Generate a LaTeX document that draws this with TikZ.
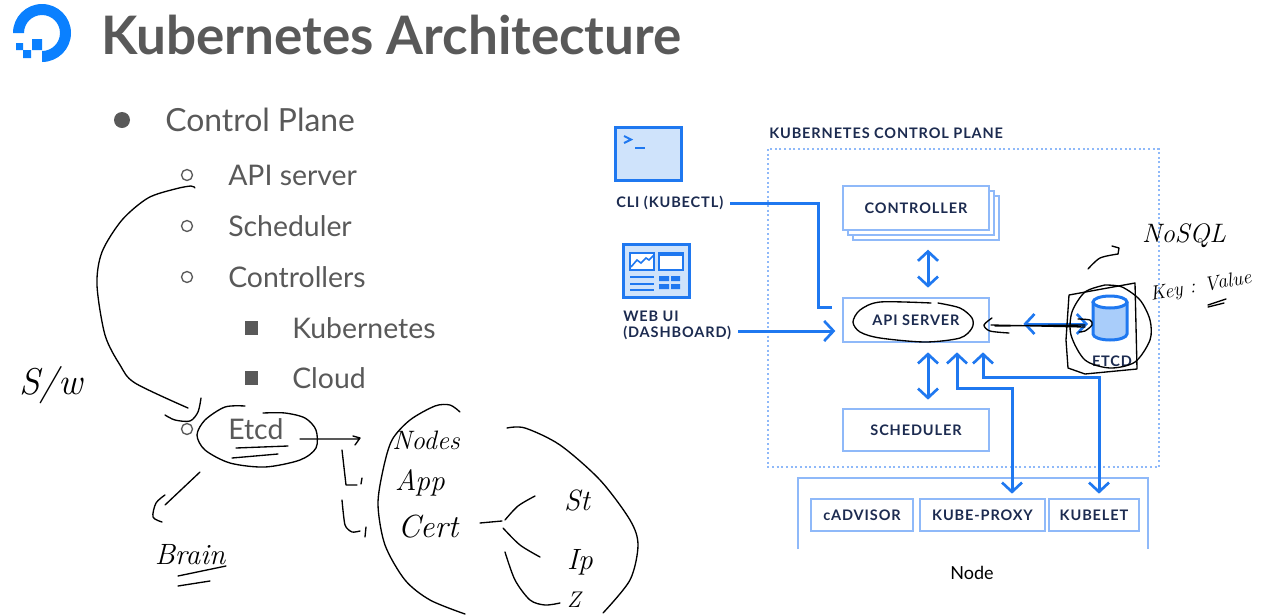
\documentclass[tikz,border=0pt]{standalone}
\usepackage{fontspec}
\setsansfont{Lato}
\newfontfamily\capsfont[LetterSpace=6]{Lato}
\usetikzlibrary{arrows.meta}
\definecolor{doblue}{HTML}{0A80FF}
\definecolor{flowblue}{HTML}{1F78F0}
\definecolor{paleblue}{HTML}{8FB9F9}
\definecolor{iconfill}{HTML}{CFE3FB}
\definecolor{cylfill}{HTML}{A9CDFA}
\definecolor{navy}{HTML}{1C2B50}
\definecolor{slidegrey}{HTML}{595959}
\tikzset{
  every node/.style={font=\sffamily,inner sep=0pt},
  itemtext/.style={anchor=west,text=slidegrey,font=\sffamily\fontsize{21.3}{24}\selectfont},
  capslabel/.style={text=navy,font=\capsfont\bfseries\fontsize{10.9}{12}\selectfont},
  boxnode/.style={draw=paleblue,line width=1.5pt,fill=white,capslabel,text height=7.6pt,text depth=0pt},
  flow/.style={draw=flowblue,line width=2.25pt,-{Straight Barb[length=7pt,width=15pt,line width=2pt]}},
  biflow/.style={draw=flowblue,line width=2.25pt,{Straight Barb[length=7pt,width=15pt,line width=2pt]}-{Straight Barb[length=7pt,width=15pt,line width=2pt]}},
  ink/.style={draw=black,line width=1pt,line cap=round,line join=round},
  inktext/.style={text=black,font=\rmfamily\itshape\fontsize{22}{24}\selectfont},
  circbullet/.style={draw=slidegrey,line width=1pt,fill=white},
}
\begin{document}
\begin{tikzpicture}[x=0.75pt,y=0.75pt,yscale=-1,xscale=1]
\useasboundingbox (0,0) rectangle (1261,615);

%Logo
\fill [doblue] (13,33) arc [start angle=180,end angle=450,radius=29] -- (42,51) arc [start angle=90,end angle=-180,radius=18] -- cycle;
\fill [doblue] (32,39) rectangle (42,50) (23,50) rectangle (31,58) (16,43) rectangle (23,50);

% Title
\draw (101,35) node (title) [anchor=west,text=slidegrey,font=\sffamily\bfseries\fontsize{39.8}{42}\selectfont] {Kubernetes Architecture};

% Left list
\fill [slidegrey] (122,120) circle [radius=8];
\draw (165,120) node (planeItem) [itemtext,font=\sffamily\fontsize{23.9}{26}\selectfont] {Control Plane};
\foreach \yy/\nm/\lbl in {175/apiItem/API server,226/schedItem/Scheduler,277/ctrlItem/Controllers,429/etcdItem/Etcd}{
  \draw [circbullet] (187,\yy) circle [radius=5.5];
  \draw (228,\yy) node (\nm) [itemtext] {\lbl};
}
\foreach \yy/\nm/\lbl in {328/kubeItem/Kubernetes,378/cloudItem/Cloud}{
  \fill [slidegrey] (245,\yy-7) rectangle (258,\yy+7);
  \draw (292,\yy) node (\nm) [itemtext] {\lbl};
}

%CLI icon
\draw [flowblue,fill=iconfill,line width=2.25pt] (615,127.5) rectangle (681,180);
\draw [flowblue,line width=1.5pt] (624,136) -- (631,139.5) -- (624,143);
\draw [flowblue,line width=1.5pt] (635,148) -- (645,148);
\draw (616,203) node (cliLabel) [capslabel,anchor=west] {CLI (KUBECTL)};

%Web UI icon
\draw [flowblue,fill=iconfill,line width=2.25pt] (623,244) rectangle (689,297);
\draw [flowblue,fill=white,line width=1.5pt] (630,252.5) rectangle (654,269.5);
\draw [flowblue,line width=1.2pt] (631,267) -- (637,260) -- (641,263) -- (646,258) -- (649,260) -- (654,255);
\draw [flowblue,fill=white,line width=1.5pt] (659,252.5) rectangle (683,269.5);
\draw [flowblue,line width=3pt] (659,254) -- (683,254);
\foreach \yy in {277,284,290}{
  \draw [flowblue,line width=1.5pt] (630,\yy) -- (654,\yy);
}
\fill [flowblue] (659,276) rectangle (669,281) (671,276) rectangle (680,281) (659,284) rectangle (669,289) (671,284) rectangle (680,289);
\draw (623,316) node (webLabel) [capslabel,anchor=west] {WEB UI};
\draw (623,333) node (dashLabel) [capslabel,anchor=west] {(DASHBOARD)};

%Control plane frame
\draw (769,133) node (planeLabel) [capslabel,anchor=west] {KUBERNETES CONTROL PLANE};
\draw [paleblue,line width=1.5pt,dotted] (768,149) rectangle (1159,467);

%Boxes
\draw [paleblue,fill=white,line width=1.5pt] (853,196) rectangle (999,240);
\draw [paleblue,fill=white,line width=1.5pt] (848,191) rectangle (994,235);
\draw (916,208) node (controller) [boxnode,minimum width=109.5pt,minimum height=33pt] {CONTROLLER};
\draw (916,320) node (api) [boxnode,minimum width=109.5pt,minimum height=33pt] {API SERVER};
\draw (916,430) node (scheduler) [boxnode,minimum width=109.5pt,minimum height=32pt] {SCHEDULER};
\draw (862,515) node (cadvisor) [boxnode,minimum width=76pt,minimum height=24.5pt] {cADVISOR};
\draw (982.5,515) node (proxy) [boxnode,minimum width=93.5pt,minimum height=24.5pt] {KUBE-PROXY};
\draw (1094,515) node (kubelet) [boxnode,minimum width=67.5pt,minimum height=24.5pt] {KUBELET};
\draw [paleblue,line width=1.5pt] (798,549) -- (798,478) -- (1148,478) -- (1148,549);
\draw (972,573) node (nodeLabel) [font=\sffamily\fontsize{13.5}{15}\selectfont] {Node};

%ETCD
\draw [flowblue,fill=cylfill,line width=2.25pt] (1093,302) -- (1093,334) arc [start angle=180,end angle=0,x radius=17,y radius=6] -- (1127,302);
\draw [flowblue,fill=white,line width=2.25pt] (1110,302) ellipse [x radius=17,y radius=6];
\draw (1112,361) node (etcdLabel) [capslabel] {ETCD};

%Connectors
\coordinate (cliBend) at (818,307);
\coordinate (cliEnd) at (832,307);
\draw [draw=flowblue,line width=2.25pt,shorten <=5pt] (cliLabel.east) -| (cliBend) -- (cliEnd);
\draw [flow,shorten <=5pt,shorten >=5pt] ([yshift=-1.5pt]dashLabel.east) -- ([yshift=-1.5pt]dashLabel.east -| api.west);
\draw [biflow,shorten <=14pt,shorten >=7pt] ([xshift=9pt]controller.south) -- ([xshift=9pt]api.north);
\draw [biflow,shorten <=7pt,shorten >=6pt] ([xshift=9pt]api.south) -- ([xshift=9pt]scheduler.north);
\coordinate (proxyBend) at (1012,388);
\draw [biflow,shorten <=7pt,shorten >=3pt] ([xshift=30.75pt]api.south) |- (proxyBend) -- (proxyBend |- proxy.north);
\coordinate (kubeletBend) at (1099,377);
\draw [biflow,shorten <=7pt,shorten >=3pt] ([xshift=50.25pt]api.south) |- (kubeletBend) -- (kubeletBend |- kubelet.north);
\coordinate (etcdPort) at (1088,324);
\draw [biflow,shorten <=25pt] ([yshift=3pt]api.east) -- (etcdPort);

%Ink over the slide
\draw [ink] plot [smooth] coordinates {(195,188) (191,186) (175,189) (148,198) (122,220) (102,252) (97,285) (105,335) (120,365) (135,383) (188,408)};
\draw [ink] plot [smooth] coordinates {(165,415) (175,420) (190,421) (198,412) (201,398)};
\draw [ink] plot [smooth] coordinates {(245,406) (225,407) (205,420) (197,435) (205,450) (230,463) (265,467) (300,460) (316,448) (316,430) (305,418) (285,413) (263,413)};
\draw [ink] (236,448) -- (288,446) (232,458) -- (278,454);
\draw [ink] (300,439) -- (358,439) (353,436) -- (360,438) -- (355,445);
\draw [ink] (200,472) -- (165,505);
\draw [ink] plot [smooth] coordinates {(165,495) (156,503) (153,517) (162,522)};
\draw (190,555) node (brainText) [inktext] {Brain};
\draw [ink] (178,576) -- (226,566) (178,586) -- (210,581);
\draw (51,385) node (swText) [inktext,font=\rmfamily\itshape\fontsize{28}{30}\selectfont] {S/w};
\draw [ink] (342,450) -- (346,485) -- (357,485) (362,478) -- (361,484);
\draw [ink] plot [tension=0.4,smooth] coordinates {(342,500) (345,525) (352,532) (360,531)};
\draw [ink] (366,527) -- (365,537);
\draw [ink] plot [smooth] coordinates {(460,412) (450,405) (435,406) (410,420) (392,440) (383,470) (378,505) (385,545) (405,580) (430,600) (465,614)};
\draw [ink] plot [smooth] coordinates {(507,428) (525,428) (560,445) (600,480) (630,520) (638,545) (630,580) (603,613)};
\draw (426,440) node (nodesText) [inktext,font=\rmfamily\itshape\fontsize{20}{22}\selectfont] {Nodes};
\draw (420,483) node (appText) [inktext] {App};
\draw (428,527) node (certText) [inktext,font=\rmfamily\itshape\fontsize{24}{26}\selectfont] {Cert};
\draw (577,500) node (stText) [inktext] {St};
\draw (580,562) node (ipText) [inktext] {Ip};
\draw (574,600) node (zText) [inktext,font=\rmfamily\itshape\fontsize{17}{18}\selectfont] {Z};
\draw [ink] (480,523) -- (502,521);
\draw [ink] plot [smooth] coordinates {(505,520) (518,506) (535,496)};
\draw [ink] plot [smooth] coordinates {(503,528) (520,545) (540,557)};
\draw [ink] plot [smooth] coordinates {(505,552) (515,580) (530,600) (545,605) (560,603)};
\draw [ink] plot [smooth] coordinates {(931,303) (880,302) (860,310) (853,322) (860,332) (880,338) (925,342) (960,338) (972,328) (972,318) (960,308) (938,303)};
\draw [ink] plot [smooth] coordinates {(992,318) (984,325) (990,331) (1009,333)};
\draw [ink] (991,325) -- (1085,327) (995,326) -- (1085,325);
\draw [ink] plot [smooth] coordinates {(1078,319) (1090,320) (1092,325) (1085,331) (1079,332)};
\draw [ink] (1069,295) -- (1135,283) -- (1137,369) -- (1085,374) -- (1068,368) -- (1066,340) -- (1069,295);
\draw [ink] plot [smooth] coordinates {(1105,285) (1085,292) (1072,312) (1071,335) (1085,360) (1110,368) (1135,362) (1150,340) (1150,320) (1140,300) (1122,287) (1105,285)};
\draw [ink] plot [smooth] coordinates {(1088,269) (1100,258) (1118,254)};
\draw [ink] (1112,246) -- (1119,248) -- (1118,254);
\draw (1184,236) node (nosqlText) [inktext,font=\rmfamily\itshape\fontsize{20}{22}\selectfont] {NoSQL};
\draw (1201,287) node (keyText) [inktext,rotate=10,font=\rmfamily\itshape\fontsize{15}{17}\selectfont] {Key : Value};
\draw [ink] (1208,305) -- (1226,299) (1208,307) -- (1224,303);

\end{tikzpicture}
\end{document}
